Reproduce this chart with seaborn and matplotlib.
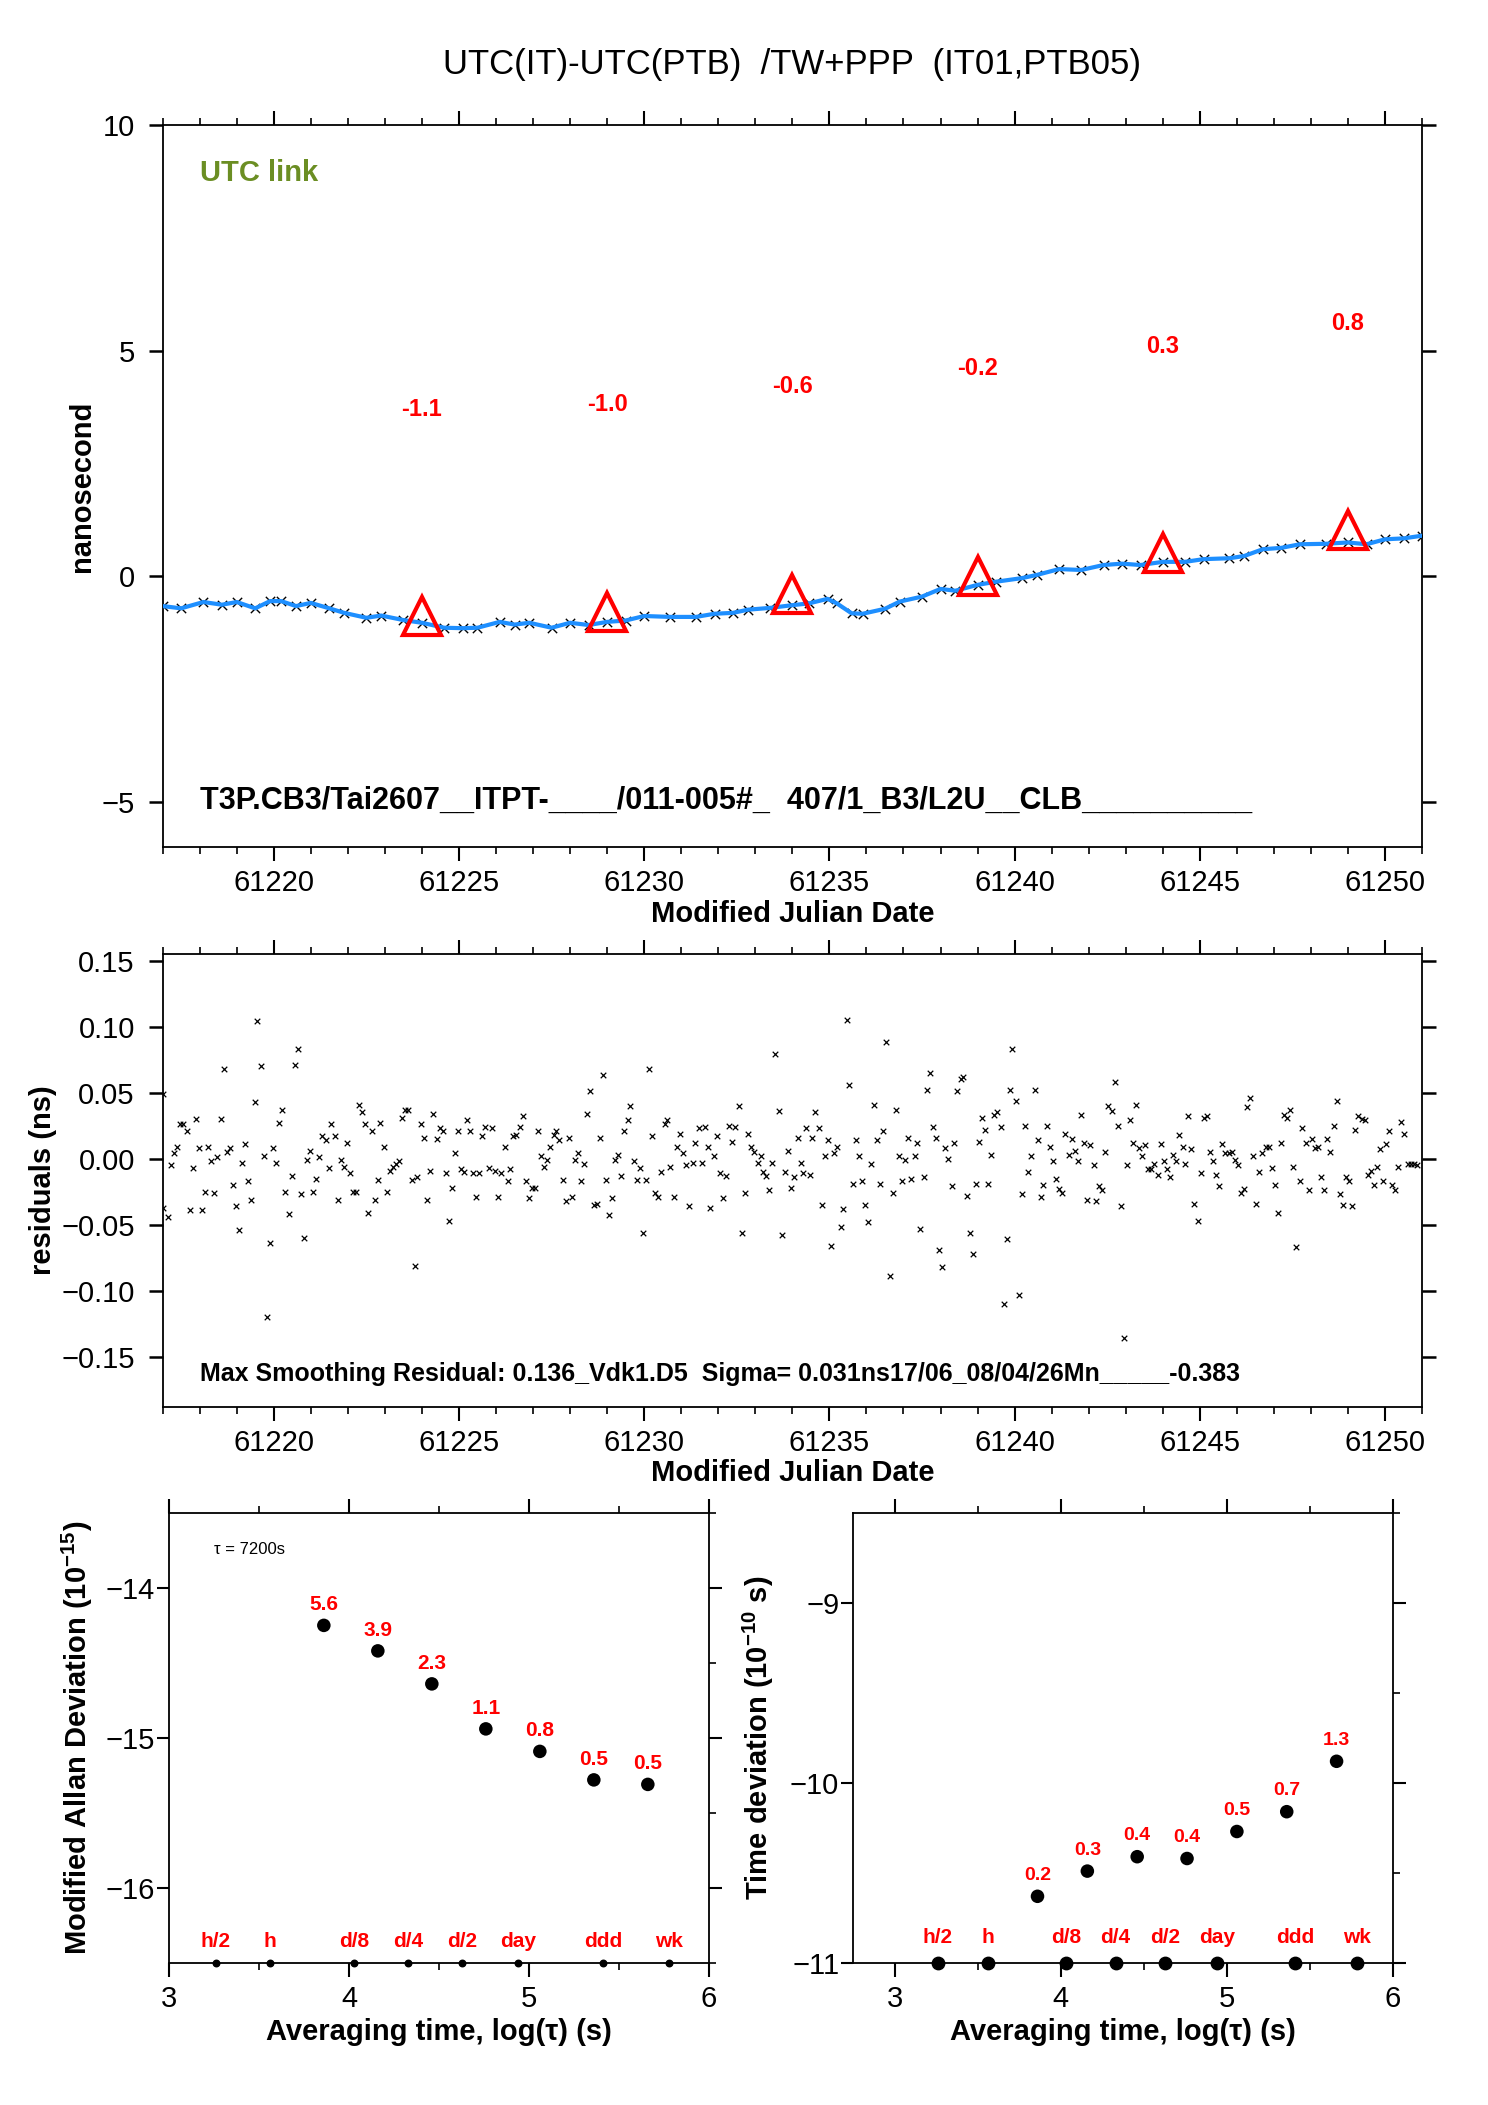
import matplotlib
matplotlib.use("Agg")
import matplotlib.pyplot as plt
from matplotlib.ticker import MultipleLocator
from matplotlib.transforms import offset_copy
import seaborn as sns

# style first, fonts after (set_style resets font.family)
sns.set_style("ticks", {"axes.edgecolor": "black", "xtick.color": "black",
                        "ytick.color": "black", "text.color": "black",
                        "axes.labelcolor": "black"})
plt.rcParams["font.family"] = ["Liberation Sans", "DejaVu Sans"]
plt.rcParams["mathtext.fontset"] = "custom"
plt.rcParams["mathtext.rm"] = "Liberation Sans"
plt.rcParams["mathtext.bf"] = "Liberation Sans:bold"
plt.rcParams["mathtext.default"] = "bf"
plt.rcParams["axes.linewidth"] = 1.3

# ---- top panel: smoothed link UTC(IT)-UTC(PTB), ns ----
smooth_mjd = [61217.0, 61217.5, 61218.1, 61218.6, 61219.0, 61219.5, 61219.9, 61220.2,
              61220.6, 61221.0, 61221.5, 61221.9, 61222.5, 61222.9, 61223.5, 61224.0,
              61224.6, 61225.1, 61225.5, 61226.1, 61226.5, 61226.9, 61227.5, 61228.0,
              61228.5, 61229.0, 61229.5, 61230.0, 61230.7, 61231.4, 61231.9, 61232.4,
              61232.8, 61233.4, 61234.0, 61234.45, 61234.95, 61235.2, 61235.6, 61235.9,
              61236.5, 61236.9, 61237.5, 61238.0, 61238.4, 61239.0, 61239.5, 61240.2,
              61240.6, 61241.2, 61241.8, 61242.4, 61242.9, 61243.4, 61244.0, 61244.6,
              61245.1, 61245.8, 61246.2, 61246.7, 61247.2, 61247.7, 61248.4, 61249.0,
              61249.5, 61250.0, 61250.5, 61251.0]
smooth_ns = [-0.66, -0.71, -0.57, -0.63, -0.57, -0.71, -0.55, -0.55,
             -0.66, -0.59, -0.71, -0.81, -0.92, -0.87, -0.97, -1.03,
             -1.14, -1.15, -1.14, -1.01, -1.07, -1.03, -1.14, -1.03,
             -1.08, -1.01, -0.98, -0.88, -0.90, -0.90, -0.83, -0.81,
             -0.74, -0.70, -0.64, -0.60, -0.50, -0.60, -0.82, -0.83,
             -0.72, -0.56, -0.45, -0.28, -0.32, -0.19, -0.12, -0.04,
             0.03, 0.16, 0.14, 0.25, 0.28, 0.25, 0.32, 0.32,
             0.38, 0.40, 0.45, 0.60, 0.63, 0.71, 0.72, 0.75,
             0.71, 0.82, 0.84, 0.90]

tri_mjd = [61224, 61229, 61234, 61239, 61244, 61249]
tri_ns = [-1.1, -1.0, -0.6, -0.2, 0.3, 0.8]

# ---- middle panel: residuals from smoothing, ns ----
res_mjd = [
    61217.00, 61217.02, 61217.15, 61217.23, 61217.32, 61217.40, 61217.47, 61217.55, 61217.66, 61217.74,
    61217.82, 61217.90, 61217.98, 61218.06, 61218.15, 61218.23, 61218.31, 61218.39, 61218.48, 61218.57,
    61218.65, 61218.74, 61218.82, 61218.90, 61218.98, 61219.06, 61219.14, 61219.22, 61219.30, 61219.39,
    61219.48, 61219.55, 61219.65, 61219.73, 61219.81, 61219.89, 61219.98, 61220.06, 61220.14, 61220.23,
    61220.31, 61220.41, 61220.49, 61220.57, 61220.65, 61220.73, 61220.81, 61220.89, 61220.98, 61221.06,
    61221.14, 61221.23, 61221.31, 61221.40, 61221.48, 61221.55, 61221.64, 61221.73, 61221.81, 61221.89,
    61221.97, 61222.05, 61222.14, 61222.22, 61222.30, 61222.38, 61222.46, 61222.55, 61222.64, 61222.73,
    61222.81, 61222.87, 61222.97, 61223.07, 61223.14, 61223.22, 61223.30, 61223.38, 61223.47, 61223.55,
    61223.63, 61223.73, 61223.81, 61223.88, 61223.97, 61224.05, 61224.14, 61224.23, 61224.31, 61224.40,
    61224.48, 61224.56, 61224.64, 61224.73, 61224.81, 61224.89, 61224.97, 61225.06, 61225.14, 61225.22,
    61225.30, 61225.39, 61225.47, 61225.55, 61225.63, 61225.71, 61225.80, 61225.88, 61225.97, 61226.06,
    61226.14, 61226.23, 61226.31, 61226.39, 61226.47, 61226.55, 61226.64, 61226.73, 61226.81, 61226.89,
    61226.98, 61227.06, 61227.14, 61227.22, 61227.30, 61227.38, 61227.47, 61227.56, 61227.63, 61227.71,
    61227.80, 61227.88, 61227.97, 61228.05, 61228.13, 61228.22, 61228.30, 61228.38, 61228.46,
    61228.55, 61228.64, 61228.73, 61228.80, 61228.88, 61228.96, 61229.05, 61229.14, 61229.22, 61229.30,
    61229.38, 61229.46, 61229.55, 61229.62, 61229.72, 61229.80, 61229.89, 61229.96, 61230.04, 61230.14,
    61230.22, 61230.29, 61230.37, 61230.45, 61230.55, 61230.62, 61230.71, 61230.80, 61230.89, 61230.96,
    61231.04, 61231.13, 61231.22, 61231.31, 61231.38, 61231.47, 61231.55, 61231.63, 61231.72, 61231.79,
    61231.89, 61231.96, 61232.04, 61232.13, 61232.22, 61232.30, 61232.38, 61232.46, 61232.55, 61232.63,
    61232.72, 61232.79, 61232.87, 61232.97, 61233.06, 61233.14, 61233.21, 61233.29, 61233.38, 61233.46,
    61233.54, 61233.64, 61233.72, 61233.80, 61233.88, 61233.96, 61234.05, 61234.14, 61234.22, 61234.30,
    61234.38, 61234.47, 61234.54, 61234.62, 61234.71, 61234.79, 61234.88, 61234.96, 61235.05, 61235.13,
    61235.21, 61235.30, 61235.38, 61235.47, 61235.54, 61235.63, 61235.72, 61235.80, 61235.88, 61235.96,
    61236.04, 61236.12, 61236.21, 61236.28, 61236.37, 61236.46, 61236.53, 61236.63, 61236.71, 61236.79,
    61236.88, 61236.96, 61237.04, 61237.13, 61237.21, 61237.30, 61237.37, 61237.45, 61237.55, 61237.63,
    61237.71, 61237.79, 61237.88, 61237.96, 61238.04, 61238.12, 61238.21, 61238.30, 61238.37, 61238.45,
    61238.54, 61238.62, 61238.72, 61238.79, 61238.88, 61238.96, 61239.04, 61239.12, 61239.20, 61239.29,
    61239.36, 61239.45, 61239.53, 61239.62, 61239.71, 61239.79, 61239.87, 61239.92,
    61240.04, 61240.12, 61240.20, 61240.28, 61240.37, 61240.45, 61240.54, 61240.62, 61240.70, 61240.77,
    61240.87, 61240.95, 61241.03, 61241.12, 61241.21, 61241.29, 61241.37, 61241.46, 61241.54, 61241.62,
    61241.70, 61241.78, 61241.87, 61241.95, 61242.03, 61242.13, 61242.20, 61242.28, 61242.37, 61242.45,
    61242.53, 61242.62, 61242.70, 61242.78, 61242.86, 61242.96, 61243.03, 61243.11, 61243.19, 61243.27,
    61243.36, 61243.45, 61243.53, 61243.60, 61243.69, 61243.77, 61243.86, 61243.95, 61244.04, 61244.12,
    61244.20, 61244.28, 61244.36, 61244.45, 61244.54, 61244.61, 61244.69, 61244.77, 61244.85, 61244.94,
    61245.03, 61245.11, 61245.20, 61245.28, 61245.36, 61245.45, 61245.53, 61245.61, 61245.69, 61245.78,
    61245.86, 61245.95, 61246.03, 61246.11, 61246.19, 61246.27, 61246.35, 61246.44, 61246.52, 61246.61,
    61246.69, 61246.78, 61246.86, 61246.95, 61247.03, 61247.12, 61247.19, 61247.28, 61247.36, 61247.44,
    61247.52, 61247.59, 61247.70, 61247.76, 61247.86, 61247.95, 61248.02, 61248.10, 61248.19, 61248.26,
    61248.36, 61248.44, 61248.52, 61248.61, 61248.69, 61248.78, 61248.87, 61248.95, 61249.03, 61249.11,
    61249.19, 61249.28, 61249.37, 61249.45, 61249.53, 61249.62, 61249.71, 61249.77, 61249.87, 61249.95,
    61250.02, 61250.10, 61250.19, 61250.27, 61250.36, 61250.44, 61250.52, 61250.61, 61250.70, 61250.78,
    61250.87]
res_ns = [
    0.049, -0.037, -0.044, -0.005, 0.004, 0.009, 0.026, 0.026, 0.021, -0.039,
    -0.007, 0.030, 0.008, -0.039, -0.025, 0.009, -0.002, -0.026, 0.001, 0.030,
    0.068, 0.005, 0.008, -0.020, -0.036, -0.054, -0.003, 0.011, -0.017, -0.031,
    0.043, 0.104, 0.070, 0.002, -0.120, -0.064, 0.008, -0.003, 0.027, 0.037,
    -0.025, -0.042, -0.013, 0.071, 0.083, -0.027, -0.060, -0.001, 0.006, -0.025,
    -0.015, 0.001, 0.017, 0.014, -0.007, 0.026, 0.017, -0.031, -0.001, -0.006,
    0.012, -0.011, -0.025, -0.025, 0.041, 0.035, 0.026, -0.041, 0.021, -0.031,
    -0.016, 0.027, 0.009, -0.025, -0.009, -0.006, -0.004, -0.002, 0.031, 0.037,
    0.037, -0.016, -0.081, -0.014, 0.026, 0.016, -0.031, -0.009, 0.034, 0.015,
    0.023, 0.021, -0.011, -0.047, -0.022, 0.004, 0.021, -0.008, -0.010, 0.029,
    0.021, -0.011, -0.029, -0.011, 0.017, 0.024, -0.007, 0.023, -0.009, -0.029,
    -0.011, 0.009, -0.017, -0.008, 0.017, 0.018, 0.024, 0.032, -0.017, -0.030,
    -0.022, -0.022, 0.021, 0.002, -0.006, -0.001, 0.009, 0.018, 0.021, 0.014,
    -0.016, -0.032, 0.016, -0.029, -0.001, 0.004, -0.017, -0.004, 0.034,
    0.051, -0.035, -0.034, 0.016, 0.063, -0.016, -0.043, -0.030, -0.001, 0.003,
    -0.013, 0.021, 0.029, 0.040, -0.002, -0.016, -0.007, -0.056, -0.016, 0.068,
    0.017, -0.026, -0.029, -0.010, 0.026, 0.029, -0.006, -0.029, 0.009, 0.019,
    0.004, -0.005, -0.036, -0.003, 0.012, 0.023, -0.003, 0.024, 0.009, -0.037,
    0.002, 0.017, -0.011, -0.030, -0.013, 0.025, 0.013, 0.024, 0.040, -0.056,
    -0.026, 0.019, 0.009, 0.005, -0.003, 0.002, -0.010, -0.013, -0.024, -0.003,
    0.079, 0.036, -0.058, -0.010, 0.006, -0.022, -0.014, 0.016, -0.003, -0.011,
    0.023, -0.012, 0.016, 0.035, 0.023, -0.035, 0.002, 0.014, -0.066, 0.004,
    0.009, -0.052, -0.038, 0.105, 0.056, -0.019, 0.014, 0.002, -0.017, -0.035,
    -0.048, -0.004, 0.041, 0.014, -0.019, 0.021, 0.088, -0.089, -0.026, 0.037,
    0.002, -0.017, -0.001, 0.016, -0.015, 0.002, 0.012, -0.053, -0.014, 0.052,
    0.065, 0.024, 0.016, -0.069, -0.082, 0.008, 0.000, -0.021, 0.012, 0.051,
    0.060, 0.062, -0.028, -0.056, -0.072, -0.019, 0.013, 0.031, 0.022, -0.019,
    0.003, 0.033, 0.035, 0.024, -0.110, -0.061, 0.052, 0.083,
    0.044, -0.103, -0.027, 0.025, -0.010, 0.002, 0.052, 0.014, -0.029, -0.020,
    0.025, 0.009, -0.002, -0.015, -0.023, -0.026, 0.019, 0.003, 0.015, 0.006,
    -0.002, 0.033, 0.012, -0.031, 0.010, -0.005, -0.032, -0.021, -0.024, 0.005,
    0.040, 0.036, 0.058, 0.025, -0.036, -0.136, -0.005, 0.029, 0.012, 0.041,
    0.008, 0.002, 0.010, -0.008, -0.008, -0.004, -0.012, 0.011, -0.002, -0.008,
    -0.014, 0.003, -0.002, 0.018, 0.009, -0.004, 0.032, 0.007, -0.034, -0.047,
    -0.011, 0.031, 0.032, 0.005, -0.002, -0.012, -0.021, 0.011, 0.004, 0.004,
    0.005, -0.001, -0.005, -0.026, -0.023, 0.039, 0.046, 0.002, -0.034, -0.010,
    0.004, 0.009, 0.009, -0.007, -0.020, -0.041, 0.012, 0.033, 0.031, 0.037,
    -0.006, -0.067, -0.017, 0.023, 0.012, -0.024, 0.015, 0.008, 0.009, -0.014,
    -0.024, 0.015, 0.005, 0.025, 0.044, -0.027, -0.035, -0.014, -0.017, -0.036,
    0.022, 0.032, 0.030, 0.029, -0.012, -0.009, -0.020, -0.006, 0.007, -0.017,
    0.011, 0.021, -0.020, -0.024, -0.006, 0.028, 0.019, -0.004, -0.004, -0.004,
    -0.005]

# ---- bottom panels: stability vs averaging time ----
tau_log = [3.86, 4.16, 4.46, 4.76, 5.06, 5.36, 5.66]
mdev_log = [-14.25, -14.42, -14.64, -14.94, -15.09, -15.28, -15.31]
mdev_lbl = ["5.6", "3.9", "2.3", "1.1", "0.8", "0.5", "0.5"]
tdev_log = [-10.63, -10.49, -10.41, -10.42, -10.27, -10.16, -9.88]
tdev_lbl = ["0.2", "0.3", "0.4", "0.4", "0.5", "0.7", "1.3"]
mark_log = [3.26, 3.56, 4.03, 4.33, 4.63, 4.94, 5.41, 5.78]
mark_lbl = ["h/2", "h", "d/8", "d/4", "d/2", "day", "ddd", "wk"]

title = "UTC(IT)-UTC(PTB)  /TW+PPP  (IT01,PTB05)"
info_top = "T3P.CB3/Tai2607__ITPT-____/011-005#_  407/1_B3/L2U__CLB__________"
info_res = "Max Smoothing Residual: 0.136_Vdk1.D5  Sigma= 0.031ns17/06_08/04/26Mn_____-0.383"

fig = plt.figure(figsize=(14.88, 21.05), dpi=100)
ax1 = fig.add_axes([0.1093, 0.5976, 0.8464, 0.3430])
ax2 = fig.add_axes([0.1093, 0.3316, 0.8464, 0.2152])
ax3 = fig.add_axes([0.1136, 0.0675, 0.3629, 0.2138])
ax4 = fig.add_axes([0.5733, 0.0675, 0.3629, 0.2138])

fig.text(0.5325, 1 - 64.5 / 2105, title, ha="center", va="center", fontsize=25)


def mjd_axis(ax):
    ax.set_xlim(61217, 61251)
    ax.xaxis.set_major_locator(MultipleLocator(5))
    ax.xaxis.set_minor_locator(MultipleLocator(1))
    ax.ticklabel_format(axis="x", useOffset=False, style="plain")
    ax.tick_params(axis="x", which="both", direction="out", top=True, bottom=True)
    ax.tick_params(axis="x", which="major", length=10, width=1.5, labelsize=21, pad=6)
    ax.tick_params(axis="x", which="minor", length=5, width=1.2)
    ax.tick_params(axis="y", which="major", direction="out", left=True, right=True,
                   length=10, width=1.8, labelsize=21, pad=10)
    ax.set_xlabel("Modified Julian Date", fontsize=21, fontweight="bold", va="center")


# top panel
sns.scatterplot(x=smooth_mjd, y=smooth_ns, marker="x", color="black", s=45,
                linewidth=1.0, ax=ax1, zorder=2)
sns.lineplot(x=smooth_mjd, y=smooth_ns, color="#1e8fff", lw=3, ax=ax1, zorder=3)
ax1.plot(tri_mjd, tri_ns, linestyle="none", marker="^", ms=27, mfc="none",
         mec="red", mew=3, zorder=4,
         transform=offset_copy(ax1.transData, fig=fig, y=7, units="points"))
for m, v in zip(tri_mjd, tri_ns):
    ax1.text(m, v + 4.8, f"{v:.1f}", color="red", fontsize=17, fontweight="bold",
             ha="center", va="center")
ax1.set_ylim(-6, 10)
ax1.set_yticks([-5, 0, 5, 10])
mjd_axis(ax1)
ax1.xaxis.set_label_coords(0.5, -0.0928)
ax1.set_ylabel("nanosecond", fontsize=21, fontweight="bold")
ax1.yaxis.set_label_coords(-0.053, 0.5)
ax1.text(0.0297, 0.9335, "UTC link", color="#6b8e23", fontsize=21, fontweight="bold",
         transform=ax1.transAxes, va="center")
ax1.text(0.0297, 0.0637, info_top, fontsize=22, fontweight="bold",
         transform=ax1.transAxes, va="center")

# middle panel
sns.scatterplot(x=res_mjd, y=res_ns, marker="x", color="black", s=16,
                linewidth=0.9, ax=ax2)
ax2.set_ylim(-0.188, 0.155)
ax2.yaxis.set_major_locator(MultipleLocator(0.05))
mjd_axis(ax2)
ax2.xaxis.set_label_coords(0.5, -0.1457)
ax2.set_ylabel("residuals (ns)", fontsize=21, fontweight="bold")
ax2.yaxis.set_label_coords(-0.084, 0.5)
ax2.text(0.0297, 0.073, info_res, fontsize=18, fontweight="bold",
         transform=ax2.transAxes, va="center")


def tau_axis(ax, lo):
    ax.set_xlim(lo, 6)
    ax.xaxis.set_major_locator(MultipleLocator(1))
    ax.xaxis.set_minor_locator(MultipleLocator(0.5))
    ax.yaxis.set_major_locator(MultipleLocator(1))
    ax.yaxis.set_minor_locator(MultipleLocator(0.5))
    ax.tick_params(axis="x", which="both", direction="out", top=True, bottom=True)
    ax.tick_params(axis="x", which="major", length=10, width=1.5, labelsize=21, pad=6)
    ax.tick_params(axis="x", which="minor", length=5, width=1.2)
    ax.tick_params(axis="y", which="major", direction="out", left=True, right=True,
                   length=9, width=1.5, labelsize=21, pad=1)
    ax.tick_params(axis="y", which="minor", direction="out", left=False, right=True,
                   length=5, width=1.2)
    ax.set_xlabel("Averaging time, log(τ) (s)", fontsize=21, fontweight="bold",
                  va="center")
    ax.xaxis.set_label_coords(0.5, -0.153)


# bottom left: modified Allan deviation
sns.scatterplot(x=tau_log, y=mdev_log, color="black", s=95, edgecolor="none", ax=ax3)
for x, y, t in zip(tau_log, mdev_log, mdev_lbl):
    ax3.annotate(t, (x, y), xytext=(0, 15), textcoords="offset points", ha="center",
                 va="center", color="red", fontsize=15, fontweight="bold")
ax3.scatter(mark_log, [0] * len(mark_log), transform=ax3.get_xaxis_transform(),
            s=22, color="black", clip_on=False, zorder=3)
for x, t in zip(mark_log, mark_lbl):
    ax3.text(x, 0.047, t, transform=ax3.get_xaxis_transform(), ha="center",
             va="center", color="red", fontsize=15, fontweight="bold")
ax3.text(0.083, 0.918, "τ = 7200s", transform=ax3.transAxes, fontsize=12, va="center")
ax3.set_ylim(-16.5, -13.5)
tau_axis(ax3, 3)
ax3.set_ylabel("Modified Allan Deviation (10$^{-15}$)", fontsize=21, fontweight="bold")
ax3.yaxis.set_label_coords(-0.137, 0.5)

# bottom right: time deviation
sns.scatterplot(x=tau_log, y=tdev_log, color="black", s=95, edgecolor="none", ax=ax4)
for x, y, t in zip(tau_log, tdev_log, tdev_lbl):
    ax4.annotate(t, (x, y), xytext=(0, 15), textcoords="offset points", ha="center",
                 va="center", color="red", fontsize=14, fontweight="bold")
ax4.scatter(mark_log, [0] * len(mark_log), transform=ax4.get_xaxis_transform(),
            s=80, color="black", clip_on=False, zorder=3)
for x, t in zip(mark_log, mark_lbl):
    ax4.text(x, 0.056, t, transform=ax4.get_xaxis_transform(), ha="center",
             va="center", color="red", fontsize=15, fontweight="bold")
ax4.set_ylim(-11, -8.5)
tau_axis(ax4, 2.75)
ax4.set_ylabel("Time deviation (10$^{-10}$ s)", fontsize=21, fontweight="bold")
ax4.yaxis.set_label_coords(-0.142, 0.5)

fig.savefig("out.png", dpi=100)
